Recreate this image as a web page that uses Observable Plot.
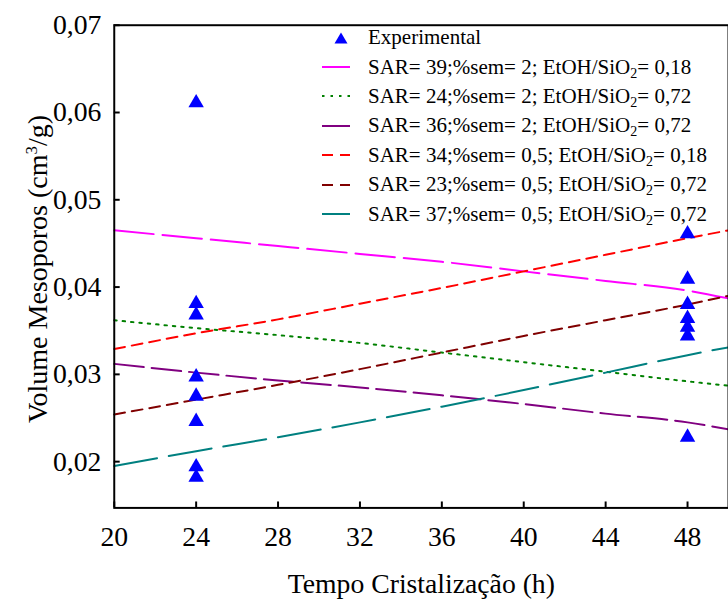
<!DOCTYPE html>
<html><head><meta charset="utf-8">
<script src="https://cdn.jsdelivr.net/npm/d3@7"></script>
<script src="https://cdn.jsdelivr.net/npm/@observablehq/plot@0.6"></script>
<style>
html,body{margin:0;padding:0;background:#fff;overflow:hidden;}
#wrap{position:relative;width:728px;height:604px;overflow:hidden;font-family:"Liberation Serif","Times New Roman",serif;}
#chart{position:absolute;left:0;top:0;}
#chart svg text{font-family:"Liberation Serif","Times New Roman",serif;}
#legend{position:absolute;left:318px;top:23px;font-size:21px;color:#000;}
.row{height:29.4px;display:flex;align-items:center;white-space:nowrap;}
.row svg{width:50px;height:14px;flex:none;}
sub{font-size:14px;vertical-align:-4px;line-height:0;}
#ytitle{position:absolute;left:38px;top:269px;transform:translate(-50%,-50%) rotate(-90deg);font-size:28px;white-space:nowrap;color:#000;}
</style></head><body>
<div id="wrap"><div id="chart"></div><div id="legend"></div><div id="ytitle"></div></div>
<script>
// ---- data ----
const hours = [20, 24, 28, 32, 36, 40, 44, 48, 50];
const sar39_sem2_018 = [0.0465, 0.0456, 0.0447, 0.0438, 0.0429, 0.0418, 0.0407, 0.0396, 0.0387];
const sar24_sem2_072 = [0.0362, 0.0353, 0.0345, 0.0336, 0.0325, 0.0314, 0.0303, 0.0292, 0.0287];
const sar36_sem2_072 = [0.0312, 0.0302, 0.0293, 0.0285, 0.0276, 0.0266, 0.0255, 0.0245, 0.0237];
const sar34_sem05_018 = [0.0329, 0.0347, 0.0363, 0.0381, 0.0399, 0.0418, 0.0437, 0.0456, 0.0465];
const sar23_sem05_072 = [0.0254, 0.0271, 0.0288, 0.0306, 0.0325, 0.0344, 0.0362, 0.0380, 0.0390];
const sar37_sem05_072 = [0.0195, 0.0212, 0.0228, 0.0245, 0.0263, 0.0282, 0.0302, 0.0322, 0.0331];

const expHours = [24, 24, 24, 24, 24, 24, 24, 24, 48, 48, 48, 48, 48, 48, 48];
const expVolume = [0.0611, 0.0381, 0.0368, 0.0297, 0.0275, 0.0246, 0.0194, 0.0182,
                   0.0461, 0.0409, 0.0380, 0.0364, 0.0354, 0.0344, 0.0228];

const seriesLabels = [
  "SAR= 39;%sem= 2; EtOH/SiO<sub>2</sub>= 0,18",
  "SAR= 24;%sem= 2; EtOH/SiO<sub>2</sub>= 0,72",
  "SAR= 36;%sem= 2; EtOH/SiO<sub>2</sub>= 0,72",
  "SAR= 34;%sem= 0,5; EtOH/SiO<sub>2</sub>= 0,18",
  "SAR= 23;%sem= 0,5; EtOH/SiO<sub>2</sub>= 0,72",
  "SAR= 37;%sem= 0,5; EtOH/SiO<sub>2</sub>= 0,72"
];
const seriesValues = [sar39_sem2_018, sar24_sem2_072, sar36_sem2_072, sar34_sem05_018, sar23_sem05_072, sar37_sem05_072];
const seriesColors = ["#ff00ff", "#008000", "#800080", "#ff0000", "#800000", "#008080"];
const seriesDash = ["40,9", "2.5,6", "30,8", "11,7", "11,7", "44,12"];
const legendDash = ["none", "2.5,6", "none", "11,7", "11,7", "none"];

const xTicks = [20, 24, 28, 32, 36, 40, 44, 48];
const yTicks = [0.02, 0.03, 0.04, 0.05, 0.06, 0.07];
const xTitle = "Tempo Cristalização (h)";
const yTitle = "Volume Mesoporos (cm<sup style=\"font-size:17px;vertical-align:10px;line-height:0\">3</sup>/g)";

// ---- chart ----
const fmt = d => d.toFixed(2).replace(".", ",");
const chart = Plot.plot({
  width: 736,
  height: 604,
  marginLeft: 115,
  marginRight: 0,
  marginTop: 25,
  marginBottom: 91,
  style: {fontFamily: "'Liberation Serif', 'Times New Roman', serif", fontSize: "28px", color: "#000", background: "transparent", overflow: "visible"},
  x: {domain: [20, 50]},
  y: {domain: [0.0147, 0.07]},
  marks: [
    ...seriesValues.map((vals, i) => Plot.line(hours, {
      x: d => d, y: (d, j) => vals[j],
      stroke: seriesColors[i], strokeWidth: 2, strokeDasharray: seriesDash[i], curve: "monotone-x"
    })),
    Plot.dot(expHours, {x: d => d, y: (d, i) => expVolume[i], symbol: "triangle", r: 5.8, fill: "#0000ff", stroke: "none"}),
    Plot.frame({stroke: "#000", strokeWidth: 2}),
    Plot.axisY({ticks: yTicks, tickFormat: fmt, tickSize: -6, tickPadding: 19, strokeWidth: 2, fontSize: 28, label: null}),
    Plot.axisX({ticks: xTicks, tickSize: -6, tickPadding: 25, strokeWidth: 2, fontSize: 28,
      label: xTitle, labelAnchor: "center", labelOffset: 86, labelArrow: false})
  ]
});
document.getElementById("chart").appendChild(chart);
document.getElementById("ytitle").innerHTML = yTitle;

// ---- legend ----
const legend = document.getElementById("legend");
const ns = "http://www.w3.org/2000/svg";
function addRow(swatch, html) {
  const row = document.createElement("div");
  row.className = "row";
  const svg = document.createElementNS(ns, "svg");
  svg.setAttribute("width", 50); svg.setAttribute("height", 14);
  svg.innerHTML = swatch;
  row.appendChild(svg);
  const span = document.createElement("span");
  span.innerHTML = html;
  row.appendChild(span);
  legend.appendChild(row);
}
addRow(`<path d="M23,1.5 L29.5,12.5 L16.5,12.5 Z" fill="#0000ff"/>`, "Experimental");
seriesLabels.forEach((lab, i) => {
  addRow(`<line x1="4" x2="32" y1="7" y2="7" stroke="${seriesColors[i]}" stroke-width="2" stroke-dasharray="${legendDash[i]}"/>`, lab);
});
</script></body></html>
